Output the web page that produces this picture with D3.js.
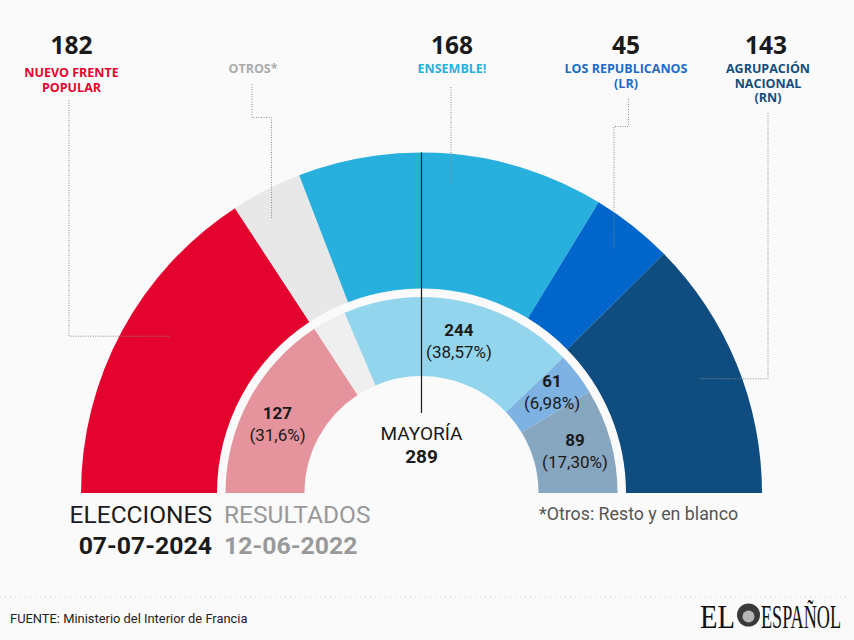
<!DOCTYPE html>
<html>
<head>
<meta charset="utf-8">
<script src="https://cdn.jsdelivr.net/npm/d3@7/dist/d3.min.js"></script>
<style>
  html, body { margin: 0; padding: 0; background: #fafafa; }
  svg { display: block; }
</style>
</head>
<body>
<script>
// ---------------- DATA ----------------
const parties = ["NFP", "OTROS", "ENSEMBLE", "LR", "RN"];
const labelLines = [
  ["NUEVO FRENTE", "POPULAR"],
  ["OTROS*"],
  ["ENSEMBLE!"],
  ["LOS REPUBLICANOS", "(LR)"],
  ["AGRUPACIÓN", "NACIONAL", "(RN)"]
];
const seats2024 = [182, 39, 168, 45, 143];          // outer ring (seats)
const seats2022 = [127, null, 244, 61, 89];         // inner ring labels
const pct2022 = [31.6, 5.55, 38.57, 6.98, 17.30];   // inner ring share (%)
const pctLabels2022 = ["(31,6%)", "", "(38,57%)", "(6,98%)", "(17,30%)"];
const majoritySeats = 289;
const legendLeft = ["ELECCIONES", "07-07-2024"];
const legendRight = ["RESULTADOS", "12-06-2022"];
const footnote = "*Otros: Resto y en blanco";
const source = "FUENTE: Ministerio del Interior de Francia";

// ---------------- STYLE / LAYOUT ----------------
const W = 854, H = 640;
const cx = 421.5, cy = 493;
const outerColors = ["#e4032e", "#e8e8e8", "#27b0de", "#0066cc", "#0f4c7f"];
const innerColors = ["#e5939c", "#efefef", "#93d5ec", "#7eb2e2", "#87a6c0"];
const labelColors = ["#e4032e", "#aaaaaa", "#27b0de", "#1a6bcc", "#134c7e"];
const R = { outerOuter: 340.5, outerInner: 204.5, innerOuter: 196, innerInner: 117 };

const labelX = [71.5, 253, 452, 626, 766];
const labelBaseY = [77, 73, 73, 73, 73];
const numberY = 53.5;
const leader = [
  { x: 69,  y0: 100, type: "downAcross", r: 296, dAng: 3.6 },
  { x: 252, y0: 84,  type: "step", yElbow: 117.5, r: 313, dAng: -1.5 },
  { x: 451, y0: 87,  type: "straight", r: 311, dAng: 0 },
  { x: 628.5, y0: 99, type: "step", yElbow: 126.5, r: 310, dAng: 0 },
  { x: 768, y0: 113, type: "downAcross", r: 301, dAng: 0 }
];

const svg = d3.select("body").append("svg")
  .attr("width", W).attr("height", H)
  .style("background", "#fafafa");

// ---------------- ARCS ----------------
const outerArcs = d3.pie().sort(null).startAngle(-Math.PI / 2).endAngle(Math.PI / 2).value(d => d)(seats2024);
const innerArcs = d3.pie().sort(null).startAngle(-Math.PI / 2).endAngle(Math.PI / 2).value(d => d)(pct2022);

const arcOuter = d3.arc().innerRadius(R.outerInner).outerRadius(R.outerOuter);
const arcInner = d3.arc().innerRadius(R.innerInner).outerRadius(R.innerOuter);

const g = svg.append("g").attr("transform", `translate(${cx},${cy})`);
g.selectAll("path.outer").data(outerArcs).join("path")
  .attr("class", "outer")
  .attr("d", arcOuter)
  .attr("fill", (d, i) => outerColors[i]);
g.selectAll("path.inner").data(innerArcs).join("path")
  .attr("class", "inner")
  .attr("d", arcInner)
  .attr("fill", (d, i) => innerColors[i]);

// majority line
svg.append("line")
  .attr("x1", cx).attr("x2", cx)
  .attr("y1", cy - R.outerOuter).attr("y2", 413)
  .attr("stroke", "#1a1a1a").attr("stroke-width", 1.2);

// ---------------- LEADERS ----------------
function polar(angleDeg, r) {
  const a = angleDeg * Math.PI / 180;
  return [cx - r * Math.cos(a), cy - r * Math.sin(a)];
}
outerArcs.forEach((d, i) => {
  const midDeg = ((d.startAngle + d.endAngle) / 2 + Math.PI / 2) * 180 / Math.PI + leader[i].dAng;
  const [ex, ey] = polar(midDeg, leader[i].r);
  const L = leader[i];
  let pts;
  if (L.type === "downAcross") pts = [[L.x, L.y0], [L.x, ey], [ex, ey]];
  else if (L.type === "step") pts = [[L.x, L.y0], [L.x, L.yElbow], [ex, L.yElbow], [ex, ey]];
  else pts = [[L.x, L.y0], [L.x, ey]];
  svg.append("path")
    .attr("d", d3.line()(pts))
    .attr("fill", "none")
    .attr("stroke", "#8a8a8a")
    .attr("stroke-width", 1)
    .attr("stroke-dasharray", "1,1.5");
});

// ---------------- TOP LABELS ----------------
seats2024.forEach((v, i) => {
  if (parties[i] !== "OTROS") {
    svg.append("text")
      .attr("x", labelX[i]).attr("y", numberY)
      .attr("text-anchor", "middle")
      .attr("font-family", "'Open Sans', sans-serif")
      .attr("font-weight", 700).attr("font-size", 24.5)
      .attr("fill", "#1a1a1a")
      .text(v);
  }
  const lx = labelX[i] + (i === 4 ? 2 : 0);
  const t = svg.append("text")
    .attr("x", lx).attr("y", labelBaseY[i])
    .attr("text-anchor", "middle")
    .attr("font-family", "'Open Sans', sans-serif")
    .attr("font-weight", 700).attr("font-size", 12.5)
    .attr("fill", labelColors[i]);
  labelLines[i].forEach((line, j) => {
    t.append("tspan")
      .attr("x", lx)
      .attr("dy", j === 0 ? 0 : 14.6)
      .text(line);
  });
});

// ---------------- INNER LABELS ----------------
const innerLabelPos = [
  { x: 277.5, y: 419 }, null, { x: 459, y: 336 }, { x: 552, y: 387 }, { x: 575, y: 446 }
];
seats2022.forEach((v, i) => {
  if (v == null) return;
  const p = innerLabelPos[i];
  svg.append("text")
    .attr("x", p.x).attr("y", p.y)
    .attr("text-anchor", "middle")
    .attr("font-family", "Roboto, sans-serif")
    .attr("font-weight", 700).attr("font-size", 17)
    .attr("fill", "#1a1a1a")
    .text(v);
  svg.append("text")
    .attr("x", p.x).attr("y", p.y + 22)
    .attr("text-anchor", "middle")
    .attr("font-family", "Roboto, sans-serif")
    .attr("font-weight", 400).attr("font-size", 17)
    .attr("fill", "#1a1a1a")
    .text(pctLabels2022[i]);
});

svg.append("text")
  .attr("x", cx).attr("y", 439.5)
  .attr("text-anchor", "middle")
  .attr("font-family", "Roboto, sans-serif")
  .attr("font-size", 19).attr("fill", "#1a1a1a")
  .text("MAYORÍA");
svg.append("text")
  .attr("x", cx).attr("y", 462.5)
  .attr("text-anchor", "middle")
  .attr("font-family", "Roboto, sans-serif")
  .attr("font-weight", 700)
  .attr("font-size", 19).attr("fill", "#1a1a1a")
  .text(majoritySeats);

// ---------------- LEGEND (bottom) ----------------
svg.append("text").attr("x", 212).attr("y", 523)
  .attr("text-anchor", "end")
  .attr("font-family", "Roboto, sans-serif").attr("font-size", 24.5)
  .attr("fill", "#1a1a1a").text(legendLeft[0]);
svg.append("text").attr("x", 212).attr("y", 554)
  .attr("text-anchor", "end")
  .attr("font-family", "Roboto, sans-serif").attr("font-weight", 700).attr("font-size", 24.8)
  .attr("fill", "#1a1a1a").text(legendLeft[1]);
svg.append("text").attr("x", 224).attr("y", 523)
  .attr("font-family", "Roboto, sans-serif").attr("font-size", 24.5)
  .attr("fill", "#999999").text(legendRight[0]);
svg.append("text").attr("x", 224).attr("y", 554)
  .attr("font-family", "Roboto, sans-serif").attr("font-weight", 700).attr("font-size", 24.8)
  .attr("fill", "#999999").text(legendRight[1]);

svg.append("text").attr("x", 539).attr("y", 519.5)
  .attr("font-family", "Roboto, sans-serif").attr("font-size", 17.8)
  .attr("fill", "#555555").text(footnote);

// ---------------- FOOTER ----------------
svg.append("line")
  .attr("x1", 0).attr("x2", W).attr("y1", 597).attr("y2", 597)
  .attr("stroke", "#d0d0d0").attr("stroke-width", 1).attr("stroke-dasharray", "1,4");
svg.append("text").attr("x", 10).attr("y", 623)
  .attr("font-family", "Roboto, sans-serif").attr("font-size", 12.9)
  .attr("fill", "#222").text(source);

// logo (condensed serif via horizontal scaling)
function condensedText(x, y, str, targetW) {
  const grp = svg.append("g");
  const t = grp.append("text")
    .attr("font-family", "'Liberation Serif', serif").attr("font-size", 34)
    .attr("fill", "#111").text(str);
  const w = t.node().getComputedTextLength();
  grp.attr("transform", `translate(${x},${y}) scale(${targetW / w},1)`);
}
condensedText(700, 628, "EL", 35);
svg.append("circle").attr("cx", 748.5).attr("cy", 615).attr("r", 11.5).attr("fill", "#3a3a3a");
svg.append("circle").attr("cx", 748.5).attr("cy", 616.5).attr("r", 6).attr("fill", "#b5b5b5");
condensedText(761, 628, "ESPAÑOL", 80);
</script>
</body>
</html>
